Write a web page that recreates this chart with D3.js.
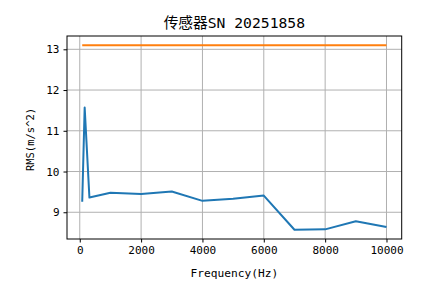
<!DOCTYPE html>
<html>
<head>
<meta charset="utf-8">
<script src="https://cdn.jsdelivr.net/npm/d3@7"></script>
<style>
  body { margin: 0; background: #fff; }
  svg text { font-family: "DejaVu Sans Mono", "Noto Sans CJK SC", monospace; fill: #000; }
</style>
</head>
<body>
<div id="chart"></div>
<script>
// data
const freqs = [80, 160, 315, 1000, 2000, 3000, 4000, 5000, 6000, 7000, 8000, 9000, 10000];
const rms = [9.26, 11.57, 9.36, 9.48, 9.45, 9.51, 9.28, 9.33, 9.41, 8.57, 8.58, 8.78, 8.64];
const limit = [13.1, 13.1, 13.1, 13.1, 13.1, 13.1, 13.1, 13.1, 13.1, 13.1, 13.1, 13.1, 13.1];
const xTicks = [0, 2000, 4000, 6000, 8000, 10000];
const yTicks = [9, 10, 11, 12, 13];
const title = "传感器SN 20251858";

const width = 445, height = 299;
const margin = { left: 67, right: 43.3, top: 36, bottom: 60 };
const iw = width - margin.left - margin.right;
const ih = height - margin.top - margin.bottom;

// matplotlib style 5% padding
function pad(ext) {
    let d = (ext[1] - ext[0]) * 0.05;
    return [ext[0] - d, ext[1] + d];
}

const x = d3.scaleLinear().domain(pad(d3.extent(freqs))).range([0, iw]);
const y = d3.scaleLinear().domain(pad([d3.min(rms.concat(limit)), d3.max(rms.concat(limit))])).range([ih, 0]);

const svg = d3.select("#chart").append("svg")
    .attr("width", width)
    .attr("height", height);

const g = svg.append("g").attr("transform", `translate(${margin.left}, ${margin.top})`);

// grid
g.append("g").selectAll("line").data(xTicks).enter().append("line")
    .attr("x1", d => x(d)).attr("x2", d => x(d))
    .attr("y1", 0).attr("y2", ih)
    .attr("stroke", "#b0b0b0").attr("stroke-width", 1);
g.append("g").selectAll("line").data(yTicks).enter().append("line")
    .attr("y1", d => y(d)).attr("y2", d => y(d))
    .attr("x1", 0).attr("x2", iw)
    .attr("stroke", "#b0b0b0").attr("stroke-width", 1);

// axes
const xAxis = g.append("g")
    .attr("transform", `translate(0, ${ih})`)
    .call(d3.axisBottom(x).tickValues(xTicks).tickSize(3.5).tickPadding(4).tickFormat(d3.format("d")));
const yAxis = g.append("g")
    .call(d3.axisLeft(y).tickValues(yTicks).tickSize(3.5).tickPadding(4).tickFormat(d3.format("d")));
[xAxis, yAxis].forEach(a => {
    a.select(".domain").remove();
    a.selectAll("text").attr("font-size", 11).attr("font-family", null);
    a.selectAll("line").attr("stroke", "#000").attr("stroke-width", 1);
});

// lines
const line = d3.line().x((d, i) => x(freqs[i])).y(d => y(d));
g.append("path").datum(limit)
    .attr("d", line).attr("fill", "none")
    .attr("stroke", "#ff7f0e").attr("stroke-width", 2);
g.append("path").datum(rms)
    .attr("d", line).attr("fill", "none")
    .attr("stroke", "#1f77b4").attr("stroke-width", 2)
    .attr("stroke-linejoin", "round");

// frame
g.append("rect").attr("width", iw).attr("height", ih)
    .attr("fill", "none").attr("stroke", "#000").attr("stroke-width", 1);

// labels
svg.append("text")
    .attr("x", margin.left + iw / 2).attr("y", 27.5)
    .attr("text-anchor", "middle").attr("font-size", 14.7)
    .text(title);
svg.append("text")
    .attr("x", margin.left + iw / 2).attr("y", 277)
    .attr("text-anchor", "middle").attr("font-size", 11.2)
    .text("Frequency(Hz)");
svg.append("text")
    .attr("transform", `translate(34, ${margin.top + ih / 2 + 2}) rotate(-90)`)
    .attr("text-anchor", "middle").attr("font-size", 10.5)
    .text("RMS(m/s^2)");
</script>
</body>
</html>
